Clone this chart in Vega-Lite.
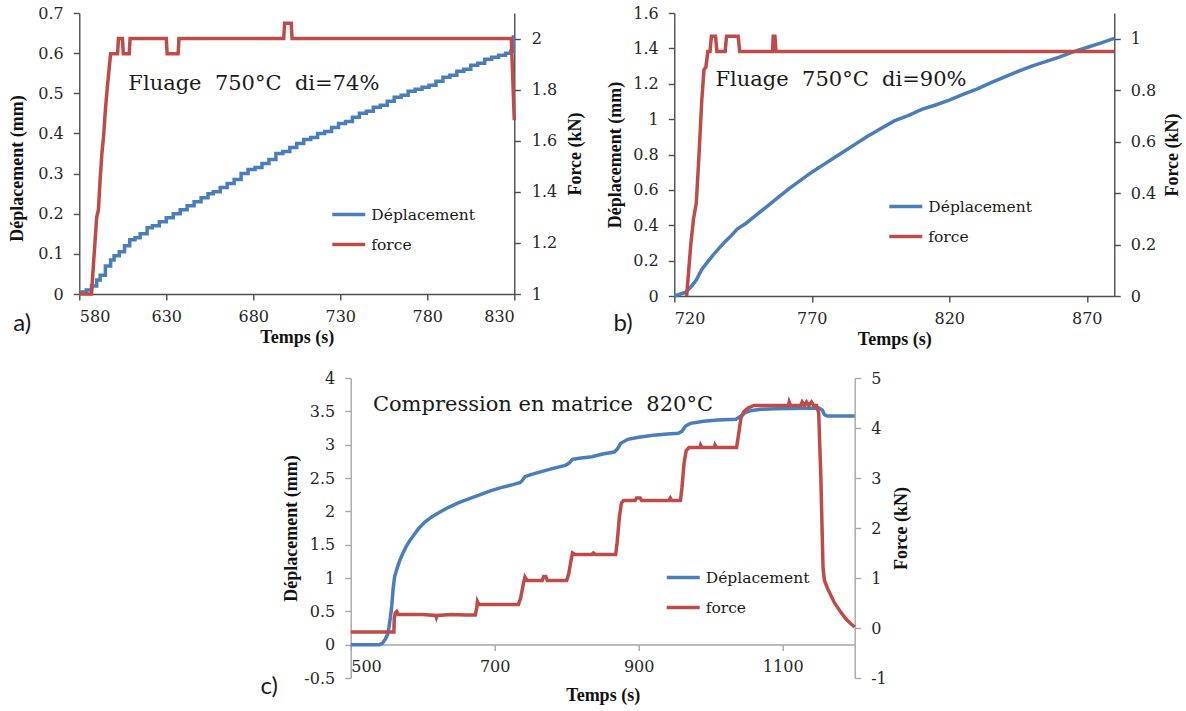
{
  "$schema": "https://vega.github.io/schema/vega-lite/v6.json",
  "background": "white",
  "padding": {"left": 8, "top": 5, "right": 0, "bottom": 0},
  "config": {
    "view": {"stroke": null},
    "axis": {
      "labelFont": "DejaVu Serif", "labelFontSize": 16, "labelColor": "#262626",
      "titleFont": "Liberation Serif", "titleFontSize": 18, "titleFontWeight": "bold", "titleColor": "#111111",
      "domainColor": "#4d4d4d", "tickColor": "#4d4d4d", "domainWidth": 1.4, "tickWidth": 1.4,
      "tickSize": 6, "grid": false, "labelPadding": 10, "titlePadding": 10,
      "labelExpr": "'' + datum.value"
    },
    "legend": {
      "labelFont": "DejaVu Serif", "labelFontSize": 15.5, "labelColor": "#1a1a1a",
      "symbolType": "stroke", "symbolSize": 1089, "symbolStrokeWidth": 3.5,
      "rowPadding": 3, "labelOffset": 4, "padding": 0, "title": null
    }
  },
  "datasets": {
    "a_disp": [
      {"t": 580, "d": 0.005}, {"t": 584, "d": 0.01}, {"t": 587, "d": 0.02}, {"t": 590, "d": 0.035},
      {"t": 592, "d": 0.047}, {"t": 595, "d": 0.07}, {"t": 598, "d": 0.085}, {"t": 600, "d": 0.095},
      {"t": 603, "d": 0.105}, {"t": 606, "d": 0.12}, {"t": 609, "d": 0.135}, {"t": 612, "d": 0.14},
      {"t": 615, "d": 0.15}, {"t": 619, "d": 0.165}, {"t": 622, "d": 0.17}, {"t": 626, "d": 0.18},
      {"t": 630, "d": 0.19}, {"t": 634, "d": 0.2}, {"t": 638, "d": 0.21}, {"t": 642, "d": 0.22},
      {"t": 646, "d": 0.23}, {"t": 650, "d": 0.24}, {"t": 654, "d": 0.25}, {"t": 657, "d": 0.255},
      {"t": 661, "d": 0.265}, {"t": 665, "d": 0.275}, {"t": 669, "d": 0.285}, {"t": 673, "d": 0.3},
      {"t": 677, "d": 0.31}, {"t": 681, "d": 0.315}, {"t": 685, "d": 0.325}, {"t": 689, "d": 0.335},
      {"t": 693, "d": 0.35}, {"t": 697, "d": 0.355}, {"t": 701, "d": 0.365}, {"t": 705, "d": 0.375},
      {"t": 709, "d": 0.385}, {"t": 713, "d": 0.39}, {"t": 717, "d": 0.4}, {"t": 721, "d": 0.405},
      {"t": 725, "d": 0.415}, {"t": 729, "d": 0.425}, {"t": 733, "d": 0.43}, {"t": 737, "d": 0.44},
      {"t": 741, "d": 0.45}, {"t": 745, "d": 0.455}, {"t": 749, "d": 0.465}, {"t": 753, "d": 0.47},
      {"t": 757, "d": 0.48}, {"t": 761, "d": 0.49}, {"t": 765, "d": 0.495}, {"t": 769, "d": 0.505},
      {"t": 773, "d": 0.51}, {"t": 777, "d": 0.515}, {"t": 781, "d": 0.52}, {"t": 785, "d": 0.53},
      {"t": 789, "d": 0.54}, {"t": 793, "d": 0.545}, {"t": 797, "d": 0.555}, {"t": 801, "d": 0.56},
      {"t": 805, "d": 0.57}, {"t": 809, "d": 0.575}, {"t": 813, "d": 0.585}, {"t": 817, "d": 0.59},
      {"t": 821, "d": 0.595}, {"t": 825, "d": 0.6}, {"t": 828, "d": 0.605}, {"t": 829.5, "d": 0.64},
      {"t": 830, "d": 0.64}
    ],
    "a_force": [
      {"t": 580, "f": 1.0}, {"t": 587, "f": 1.0}, {"t": 588, "f": 1.1}, {"t": 589, "f": 1.2},
      {"t": 590, "f": 1.3}, {"t": 591, "f": 1.33}, {"t": 592, "f": 1.45}, {"t": 593, "f": 1.55},
      {"t": 594, "f": 1.62}, {"t": 595, "f": 1.72}, {"t": 596, "f": 1.8}, {"t": 597, "f": 1.87},
      {"t": 598, "f": 1.94}, {"t": 602, "f": 1.94}, {"t": 602.5, "f": 2.0}, {"t": 604.8, "f": 2.0},
      {"t": 605.3, "f": 1.94}, {"t": 608.7, "f": 1.94}, {"t": 609.2, "f": 2.0}, {"t": 630, "f": 2.0},
      {"t": 630.5, "f": 1.94}, {"t": 636.8, "f": 1.94}, {"t": 637.3, "f": 2.0}, {"t": 697.5, "f": 2.0},
      {"t": 698, "f": 2.06}, {"t": 701.8, "f": 2.06}, {"t": 702.3, "f": 2.0}, {"t": 828.3, "f": 2.0},
      {"t": 830, "f": 1.68}
    ],
    "a_note": [{"t": 608.2, "d": 0.509, "label": "Fluage\u00a0 750°C\u00a0 di=74%"}],
    "a_tag": [{"t": 542, "d": -0.093, "label": "a)"}],
    "b_disp": [
      {"t": 720, "d": 0.0}, {"t": 722, "d": 0.01}, {"t": 724, "d": 0.02}, {"t": 726, "d": 0.05},
      {"t": 728, "d": 0.09}, {"t": 730, "d": 0.15}, {"t": 732, "d": 0.19}, {"t": 734, "d": 0.23},
      {"t": 736, "d": 0.265}, {"t": 738, "d": 0.3}, {"t": 740, "d": 0.33}, {"t": 743, "d": 0.38},
      {"t": 746, "d": 0.41}, {"t": 750, "d": 0.46}, {"t": 754, "d": 0.51}, {"t": 758, "d": 0.56},
      {"t": 762, "d": 0.61}, {"t": 766, "d": 0.655}, {"t": 770, "d": 0.7}, {"t": 774, "d": 0.74},
      {"t": 778, "d": 0.78}, {"t": 782, "d": 0.82}, {"t": 786, "d": 0.86}, {"t": 790, "d": 0.9},
      {"t": 795, "d": 0.945}, {"t": 800, "d": 0.99}, {"t": 805, "d": 1.02}, {"t": 810, "d": 1.055},
      {"t": 815, "d": 1.08}, {"t": 820, "d": 1.107}, {"t": 825, "d": 1.14}, {"t": 830, "d": 1.17},
      {"t": 835, "d": 1.205}, {"t": 840, "d": 1.237}, {"t": 845, "d": 1.27}, {"t": 850, "d": 1.3},
      {"t": 855, "d": 1.325}, {"t": 860, "d": 1.35}, {"t": 865, "d": 1.38}, {"t": 870, "d": 1.405},
      {"t": 875, "d": 1.43}, {"t": 880, "d": 1.457}
    ],
    "b_force": [
      {"t": 724.5, "f": 0.0}, {"t": 726, "f": 0.2}, {"t": 727, "f": 0.3}, {"t": 728, "f": 0.36},
      {"t": 729, "f": 0.55}, {"t": 730, "f": 0.76}, {"t": 730.8, "f": 0.88}, {"t": 731.5, "f": 0.89},
      {"t": 732.2, "f": 0.95}, {"t": 733, "f": 0.95}, {"t": 733.5, "f": 1.01}, {"t": 735, "f": 1.01},
      {"t": 735.5, "f": 0.95}, {"t": 738.5, "f": 0.95}, {"t": 739, "f": 1.01}, {"t": 743.2, "f": 1.01},
      {"t": 743.8, "f": 0.95}, {"t": 755.7, "f": 0.95}, {"t": 756, "f": 1.01}, {"t": 756.6, "f": 1.01},
      {"t": 757, "f": 0.95}, {"t": 880, "f": 0.95}
    ],
    "b_note": [{"t": 735, "d": 1.185, "label": "Fluage\u00a0 750°C\u00a0 di=90%"}],
    "b_tag": [{"t": 697.9, "d": -0.2, "label": "b)"}],
    "c_disp": [
      {"t": 500, "d": 0}, {"t": 540, "d": 0}, {"t": 544, "d": 0.02}, {"t": 548, "d": 0.08},
      {"t": 551, "d": 0.15}, {"t": 553, "d": 0.25}, {"t": 555, "d": 0.4}, {"t": 557, "d": 0.58},
      {"t": 559, "d": 0.85}, {"t": 561, "d": 1.02}, {"t": 564, "d": 1.13}, {"t": 568, "d": 1.26},
      {"t": 572, "d": 1.36}, {"t": 577, "d": 1.47}, {"t": 582, "d": 1.56}, {"t": 588, "d": 1.65},
      {"t": 595, "d": 1.75}, {"t": 603, "d": 1.84}, {"t": 613, "d": 1.92}, {"t": 624, "d": 1.99},
      {"t": 636, "d": 2.06}, {"t": 650, "d": 2.13}, {"t": 665, "d": 2.19}, {"t": 680, "d": 2.25},
      {"t": 695, "d": 2.31}, {"t": 710, "d": 2.36}, {"t": 725, "d": 2.4}, {"t": 735, "d": 2.43},
      {"t": 738, "d": 2.46}, {"t": 742, "d": 2.52}, {"t": 750, "d": 2.55}, {"t": 766, "d": 2.6},
      {"t": 780, "d": 2.64}, {"t": 798, "d": 2.69}, {"t": 803, "d": 2.72}, {"t": 808, "d": 2.78},
      {"t": 820, "d": 2.8}, {"t": 835, "d": 2.82}, {"t": 850, "d": 2.86}, {"t": 866, "d": 2.89},
      {"t": 870, "d": 2.93}, {"t": 875, "d": 3.02}, {"t": 885, "d": 3.08}, {"t": 900, "d": 3.11},
      {"t": 920, "d": 3.14}, {"t": 940, "d": 3.16}, {"t": 955, "d": 3.17}, {"t": 960, "d": 3.2},
      {"t": 965, "d": 3.28}, {"t": 972, "d": 3.32}, {"t": 990, "d": 3.35}, {"t": 1010, "d": 3.37},
      {"t": 1035, "d": 3.38}, {"t": 1042, "d": 3.43}, {"t": 1048, "d": 3.48}, {"t": 1055, "d": 3.51},
      {"t": 1070, "d": 3.53}, {"t": 1090, "d": 3.54}, {"t": 1150, "d": 3.55}, {"t": 1155, "d": 3.52},
      {"t": 1158, "d": 3.45}, {"t": 1162, "d": 3.43}, {"t": 1200, "d": 3.43}
    ],
    "c_force": [
      {"t": 500, "f": -0.08}, {"t": 560, "f": -0.08}, {"t": 560.5, "f": 0.2}, {"t": 562, "f": 0.3},
      {"t": 564, "f": 0.33}, {"t": 566, "f": 0.27}, {"t": 580, "f": 0.27}, {"t": 600, "f": 0.27},
      {"t": 618, "f": 0.25}, {"t": 619, "f": 0.21}, {"t": 620, "f": 0.25}, {"t": 640, "f": 0.27},
      {"t": 660, "f": 0.26}, {"t": 673, "f": 0.26}, {"t": 675, "f": 0.4}, {"t": 676, "f": 0.53},
      {"t": 678, "f": 0.47}, {"t": 700, "f": 0.47}, {"t": 733, "f": 0.47}, {"t": 736, "f": 0.6},
      {"t": 740, "f": 0.9}, {"t": 742, "f": 1.02}, {"t": 745, "f": 0.95}, {"t": 766, "f": 0.95},
      {"t": 768, "f": 1.03}, {"t": 771, "f": 1.03}, {"t": 773, "f": 0.95}, {"t": 800, "f": 0.95},
      {"t": 803, "f": 1.1}, {"t": 806, "f": 1.35}, {"t": 808, "f": 1.5}, {"t": 812, "f": 1.47},
      {"t": 835, "f": 1.47}, {"t": 837, "f": 1.5}, {"t": 840, "f": 1.47}, {"t": 868, "f": 1.47},
      {"t": 870, "f": 1.7}, {"t": 873, "f": 2.2}, {"t": 876, "f": 2.5}, {"t": 879, "f": 2.55},
      {"t": 895, "f": 2.55}, {"t": 897, "f": 2.6}, {"t": 902, "f": 2.6}, {"t": 904, "f": 2.55},
      {"t": 942, "f": 2.55}, {"t": 944, "f": 2.6}, {"t": 946, "f": 2.55}, {"t": 958, "f": 2.55},
      {"t": 960, "f": 2.8}, {"t": 963, "f": 3.3}, {"t": 966, "f": 3.55}, {"t": 970, "f": 3.61},
      {"t": 985, "f": 3.61}, {"t": 986, "f": 3.66}, {"t": 988, "f": 3.61}, {"t": 1005, "f": 3.61},
      {"t": 1006, "f": 3.66}, {"t": 1008, "f": 3.61}, {"t": 1036, "f": 3.61}, {"t": 1039, "f": 3.9},
      {"t": 1042, "f": 4.2}, {"t": 1046, "f": 4.33}, {"t": 1052, "f": 4.4}, {"t": 1060, "f": 4.45},
      {"t": 1108, "f": 4.45}, {"t": 1109, "f": 4.52}, {"t": 1111, "f": 4.45}, {"t": 1125, "f": 4.45},
      {"t": 1127, "f": 4.52}, {"t": 1130, "f": 4.45}, {"t": 1133, "f": 4.52}, {"t": 1136, "f": 4.45},
      {"t": 1140, "f": 4.52}, {"t": 1143, "f": 4.45}, {"t": 1147, "f": 4.45}, {"t": 1150, "f": 4.3},
      {"t": 1153, "f": 3.0}, {"t": 1156, "f": 1.2}, {"t": 1158, "f": 0.95}, {"t": 1162, "f": 0.8},
      {"t": 1166, "f": 0.68}, {"t": 1172, "f": 0.5}, {"t": 1180, "f": 0.33}, {"t": 1188, "f": 0.18},
      {"t": 1195, "f": 0.08}, {"t": 1200, "f": 0.02}
    ],
    "c_note": [{"t": 530.8, "d": 3.5, "label": "Compression en matrice\u00a0 820°C"}],
    "c_tag": [{"t": 374.7, "d": -0.745, "label": "c)"}]
  },
  "vconcat": [
    {
      "hconcat": [
        {
          "width": 435, "height": 281,
          "encoding": {
            "x": {"field": "t", "type": "quantitative",
                  "scale": {"domain": [580, 830], "nice": false, "zero": false},
                  "axis": {"values": [580, 630, 680, 730, 780, 830], "title": "Temps (s)", "labelPadding": 8, "titlePadding": 4}}
          },
          "layer": [
            {
              "encoding": {
                "y": {"field": "d", "type": "quantitative",
                      "scale": {"domain": [0, 0.7], "nice": false, "zero": false},
                      "axis": {"values": [0, 0.1, 0.2, 0.3, 0.4, 0.5, 0.6, 0.7], "title": "Déplacement (mm)", "titlePadding": 11, "titleY": 155}}
              },
              "layer": [
                {"data": {"name": "a_disp"},
                 "mark": {"type": "line", "interpolate": "step-after", "strokeWidth": 3.5},
                 "encoding": {"color": {"datum": "Déplacement", "type": "nominal",
                   "scale": {"domain": ["Déplacement", "force"], "range": ["#4a7ebb", "#be4b48"]},
                   "legend": {"orient": "none", "legendX": 251, "legendY": 183}}}},
                {"data": {"name": "a_note"},
                 "mark": {"type": "text", "align": "left", "baseline": "alphabetic", "font": "DejaVu Serif", "fontSize": 21, "color": "#1a1a1a"},
                 "encoding": {"text": {"field": "label"}}},
                {"data": {"name": "a_tag"},
                 "mark": {"type": "text", "align": "left", "baseline": "alphabetic", "font": "Lato", "fontSize": 24, "color": "#1a1a1a"},
                 "encoding": {"text": {"field": "label"}}}
              ]
            },
            {
              "data": {"name": "a_force"},
              "mark": {"type": "line", "strokeWidth": 3.5},
              "encoding": {
                "y": {"field": "f", "type": "quantitative",
                      "scale": {"domain": [1, 2.1], "nice": false, "zero": false},
                      "axis": {"orient": "right", "values": [1, 1.2, 1.4, 1.6, 1.8, 2], "title": "Force (kN)", "titleAngle": 270, "titleBaseline": "top", "labelPadding": 11, "titlePadding": 10}},
                "color": {"datum": "force", "type": "nominal"}
              }
            }
          ],
          "resolve": {"scale": {"y": "independent"}}
        },
        {
          "width": 440, "height": 283,
          "encoding": {
            "x": {"field": "t", "type": "quantitative",
                  "scale": {"domain": [720, 880], "nice": false, "zero": false},
                  "axis": {"values": [720, 770, 820, 870], "title": "Temps (s)", "labelPadding": 8, "titlePadding": 4}}
          },
          "layer": [
            {
              "encoding": {
                "y": {"field": "d", "type": "quantitative",
                      "scale": {"domain": [0, 1.6], "nice": false, "zero": false},
                      "axis": {"values": [0, 0.2, 0.4, 0.6, 0.8, 1, 1.2, 1.4, 1.6], "title": "Déplacement (mm)", "titlePadding": 8}}
              },
              "layer": [
                {"data": {"name": "b_disp"},
                 "mark": {"type": "line", "strokeWidth": 3.5},
                 "encoding": {"color": {"datum": "Déplacement", "type": "nominal",
                   "scale": {"domain": ["Déplacement", "force"], "range": ["#4a7ebb", "#be4b48"]},
                   "legend": {"orient": "none", "legendX": 213, "legendY": 175}}}},
                {"data": {"name": "b_note"},
                 "mark": {"type": "text", "align": "left", "baseline": "alphabetic", "font": "DejaVu Serif", "fontSize": 21, "color": "#1a1a1a"},
                 "encoding": {"text": {"field": "label"}}},
                {"data": {"name": "b_tag"},
                 "mark": {"type": "text", "align": "left", "baseline": "alphabetic", "font": "Lato", "fontSize": 24, "color": "#1a1a1a"},
                 "encoding": {"text": {"field": "label"}}}
              ]
            },
            {
              "data": {"name": "b_force"},
              "mark": {"type": "line", "strokeWidth": 3.5},
              "encoding": {
                "y": {"field": "f", "type": "quantitative",
                      "scale": {"domain": [0, 1.1], "nice": false, "zero": false},
                      "axis": {"orient": "right", "values": [0, 0.2, 0.4, 0.6, 0.8, 1], "title": "Force (kN)", "titleAngle": 270, "titleBaseline": "top", "labelPadding": 10, "titlePadding": 8}},
                "color": {"datum": "force", "type": "nominal"}
              }
            }
          ],
          "resolve": {"scale": {"y": "independent"}}
        }
      ],
      "spacing": 21,
      "resolve": {"scale": {"color": "independent"}, "legend": {"color": "independent"}}
    },
    {
      "width": 504, "height": 300,
      "encoding": {
        "x": {"field": "t", "type": "quantitative",
              "scale": {"domain": [500, 1200], "nice": false, "zero": false},
              "axis": {"values": [500, 700, 900, 1100], "title": "Temps (s)", "offset": -33.5, "labelPadding": 8, "titlePadding": 12,
                       "domainColor": "#a6a6a6", "tickColor": "#a6a6a6"}}
      },
      "layer": [
        {
          "encoding": {
            "y": {"field": "d", "type": "quantitative",
                  "scale": {"domain": [-0.5, 4], "nice": false, "zero": false},
                  "axis": {"values": [-0.5, 0, 0.5, 1, 1.5, 2, 2.5, 3, 3.5, 4], "title": "Déplacement (mm)", "titlePadding": 3,
                           "domainColor": "#a6a6a6", "tickColor": "#a6a6a6"}}
          },
          "layer": [
            {"data": {"name": "c_disp"},
             "mark": {"type": "line", "strokeWidth": 3.5},
             "encoding": {"color": {"datum": "Déplacement", "type": "nominal",
               "scale": {"domain": ["Déplacement", "force"], "range": ["#4a7ebb", "#be4b48"]},
               "legend": {"orient": "none", "legendX": 314, "legendY": 181}}}},
            {"data": {"name": "c_note"},
             "mark": {"type": "text", "align": "left", "baseline": "alphabetic", "font": "DejaVu Serif", "fontSize": 21, "color": "#1a1a1a"},
             "encoding": {"text": {"field": "label"}}},
            {"data": {"name": "c_tag"},
             "mark": {"type": "text", "align": "left", "baseline": "alphabetic", "font": "Lato", "fontSize": 24, "color": "#1a1a1a"},
             "encoding": {"text": {"field": "label"}}}
          ]
        },
        {
          "data": {"name": "c_force"},
          "mark": {"type": "line", "strokeWidth": 3.5},
          "encoding": {
            "y": {"field": "f", "type": "quantitative",
                  "scale": {"domain": [-1, 5], "nice": false, "zero": false},
                  "axis": {"orient": "right", "values": [-1, 0, 1, 2, 3, 4, 5], "title": "Force (kN)", "titleAngle": 270, "titleBaseline": "top", "labelPadding": 10, "titlePadding": 6,
                           "domainColor": "#a6a6a6", "tickColor": "#a6a6a6"}},
            "color": {"datum": "force", "type": "nominal"}
          }
        }
      ],
      "resolve": {"scale": {"y": "independent"}}
    }
  ],
  "spacing": 22,
  "center": true,
  "resolve": {"scale": {"color": "independent"}, "legend": {"color": "independent"}}
}
